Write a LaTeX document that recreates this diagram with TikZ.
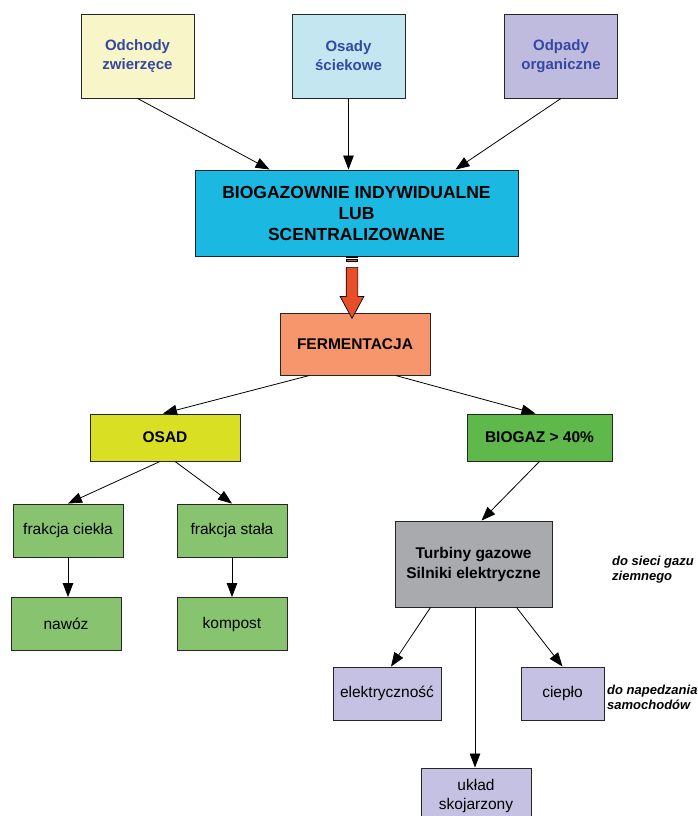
\documentclass[tikz,border=0pt]{standalone}
\usepackage{fontspec}
\setmainfont{Liberation Sans}
\usetikzlibrary{arrows.meta, shapes.arrows}
\definecolor{srcblue}{RGB}{52, 72, 162}
\definecolor{srcyellow}{RGB}{248, 246, 200}
\definecolor{srccyan}{RGB}{196, 230, 240}
\definecolor{srclav}{RGB}{190, 187, 222}
\definecolor{plantcyan}{RGB}{27, 185, 225}
\definecolor{fermsalmon}{RGB}{247, 150, 108}
\definecolor{arrowred}{RGB}{232, 78, 40}
\definecolor{osadyellow}{RGB}{217, 224, 36}
\definecolor{gasgreen}{RGB}{94, 184, 74}
\definecolor{fracgreen}{RGB}{136, 196, 112}
\definecolor{turbgray}{RGB}{168, 170, 173}
\definecolor{uselav}{RGB}{196, 193, 226}

\begin{document}
\begin{tikzpicture}[x=1pt, y=-1pt,
  box/.style={draw=black!85, line width=0.9pt, align=center, inner sep=2pt},
  src/.style={box, font=\fontsize{15}{19}\selectfont\bfseries, text=srcblue, minimum width=113pt, minimum height=84pt},
  head/.style={box, font=\fontsize{15.5}{19}\selectfont\bfseries},
  leaf/.style={box, font=\fontsize{15.5}{19}\selectfont, minimum width=110pt, minimum height=53pt},
  note/.style={align=left, inner sep=0pt, font=\fontsize{13}{15}\selectfont\bfseries\itshape},
  bar/.style={draw=black, line width=0.6pt, fill=arrowred, minimum width=11pt, minimum height=1.6pt, inner sep=0pt},
  arr/.style={-{Triangle[length=14pt, width=10.5pt]}, line width=0.8pt},
]
  \useasboundingbox (0,0) rectangle (698,816);

  % sources
  \node[src, fill=srcyellow] (odch) at (137.5,56) {Odchody\\zwierzęce};
  \node[src, fill=srccyan] (osc) at (348.5,56) {Osady\\ściekowe};
  \node[src, fill=srclav] (odp) at (561,56) {Odpady\\organiczne};

  % plant and fermentation
  \node[box, fill=plantcyan, minimum width=323pt, minimum height=86pt,
        font=\fontsize{17.5}{21}\selectfont\bfseries] (bio) at (356.5,213)
        {BIOGAZOWNIE INDYWIDUALNE\\LUB\\SCENTRALIZOWANE};
  \node[head, fill=fermsalmon, minimum width=150pt, minimum height=62pt] (ferm) at (355,344) {FERMENTACJA};

  % striped block arrow between them
  \node[bar] (bar1) at (352,256.8) {};
  \node[bar] (bar2) at (352,260.2) {};
  \node[single arrow, draw=black, line width=0.7pt, fill=arrowred, rotate=-90,
        inner xsep=0pt, inner ysep=5.5pt, minimum height=51pt,
        single arrow head extend=6pt, single arrow tip angle=57] (down) at (352,287.5) {};

  % products
  \node[head, fill=osadyellow, minimum width=150pt, minimum height=47pt] (osad) at (165,437.5) {OSAD};
  \node[head, fill=gasgreen, minimum width=145pt, minimum height=47pt] (gaz) at (539.5,437.5) {BIOGAZ > 40\%};

  \node[leaf, fill=fracgreen] (ciek) at (68,530.5) {frakcja ciekła};
  \node[leaf, fill=fracgreen] (stala) at (232,530.5) {frakcja stała};
  \node[leaf, fill=fracgreen] (nawoz) at (66,624) {nawóz};
  \node[leaf, fill=fracgreen] (komp) at (232,624) {kompost};

  \node[box, fill=turbgray, minimum width=157pt, minimum height=86pt,
        font=\fontsize{15.5}{20}\selectfont\bfseries] (turb) at (473.5,564)
        {Turbiny gazowe\\Silniki elektryczne};
  \node[leaf, fill=uselav, minimum width=108pt] (elek) at (387,693.5) {elektryczność};
  \node[leaf, fill=uselav, minimum width=83pt] (ciep) at (562.5,693.5) {ciepło};
  \node[leaf, fill=uselav, minimum height=56pt] (ukl) at (476,796) {układ\\skojarzony};

  \node[note, anchor=west] (siec) at (612,570) {do sieci gazu\\ziemnego};
  \node[note, anchor=west] (napd) at (607,697) {do napedzania\\samochodów};

  % connectors
  \draw[arr] (odch.south) -- ([xshift=75pt]bio.north west);
  \draw[arr] (osc.south) -- (osc.south |- bio.north);
  \draw[arr] (odp.south) -- ([xshift=-63pt]bio.north east);

  \draw[arr] ([xshift=30pt]ferm.south west) -- ([xshift=-2pt]osad.north);
  \draw[arr] ([xshift=-35pt]ferm.south east) -- ([xshift=-4pt]gaz.north);

  \draw[arr] ([xshift=-5pt]osad.south) -- (ciek.north);
  \draw[arr] ([xshift=10pt]osad.south) -- (stala.north);
  \draw[arr] (ciek.south) -- (ciek.south |- nawoz.north);
  \draw[arr] (stala.south) -- (stala.south |- komp.north);

  \draw[arr] (gaz.south) -- ([xshift=8pt]turb.north);
  \draw[arr] ([xshift=-43pt]turb.south) -- ([xshift=4pt]elek.north);
  \draw[arr] ([xshift=1.5pt]turb.south) -- ([xshift=1.5pt]turb.south |- ukl.north);
  \draw[arr] ([xshift=43pt]turb.south) -- (ciep.north);
\end{tikzpicture}
\end{document}
